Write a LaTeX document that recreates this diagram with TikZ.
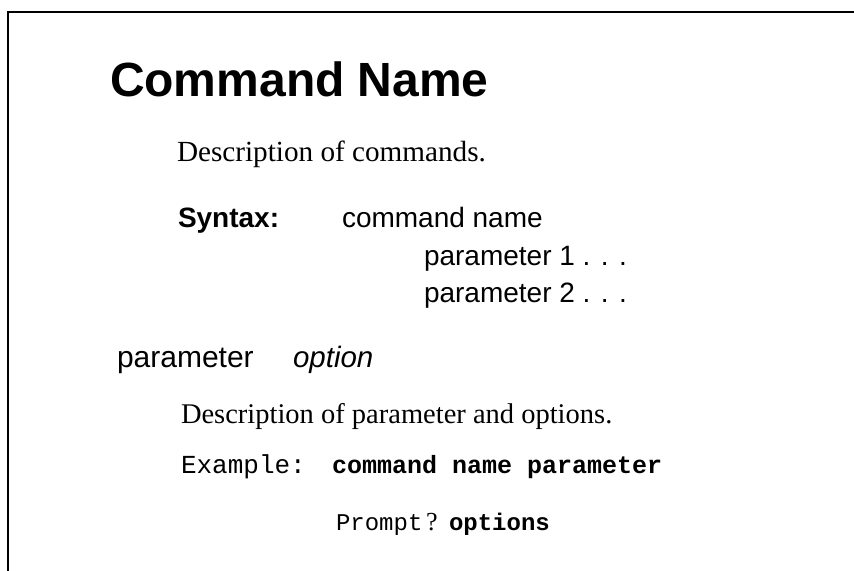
\documentclass[tikz,border=0pt]{standalone}
\usepackage{fontspec}
\setmainfont{Liberation Serif}
\setsansfont{Liberation Sans}
\setmonofont{Liberation Mono}
\begin{document}
\begin{tikzpicture}[x=1bp,y=-1bp,
  txt/.style={anchor=base west,inner sep=0pt,outer sep=0pt},
  titlefont/.style={font={\fontsize{48bp}{50bp}\sffamily\bfseries\selectfont}},
  serifbody/.style={font={\fontsize{29.2bp}{32bp}\rmfamily\selectfont}},
  sansbody/.style={font={\fontsize{28bp}{32bp}\sffamily\selectfont}},
  sansbold/.style={font={\fontsize{28bp}{32bp}\sffamily\bfseries\selectfont}},
  sansbig/.style={font={\fontsize{30bp}{32bp}\sffamily\selectfont}},
  sansital/.style={font={\fontsize{29.5bp}{32bp}\sffamily\itshape\selectfont}},
  monobody/.style={font={\fontsize{26bp}{28bp}\ttfamily\selectfont}},
  monobold/.style={font={\fontsize{25bp}{28bp}\ttfamily\bfseries\selectfont}},
  promptfont/.style={font={\fontsize{24bp}{28bp}\ttfamily\selectfont}},
  optsfont/.style={font={\fontsize{24bp}{28bp}\ttfamily\bfseries\selectfont}},
  qmfont/.style={font={\fontsize{26bp}{28bp}\rmfamily\selectfont}},
  frame/.style={line width=2bp}]
\useasboundingbox (0,0) rectangle (854,571);
\coordinate (ftr) at (854,12);
\coordinate (ftl) at (8,12);
\coordinate (fbl) at (8,571);
\draw[frame] (ftr) -- (ftl) -- (fbl);
\node[txt,titlefont] (title) at (110,97) {Command Name};
\node[txt,serifbody] (desc1) at (177,162) {Description of commands.};
\node[txt,sansbold] (syn) at (178,228) {Syntax:};
\node[txt,sansbody] (cmdname) at (342,228) {command name};
\node[txt,sansbody] (par1) at (424,265) {parameter 1 . . .};
\node[txt,sansbody] (par2) at (424,302) {parameter 2 . . .};
\node[txt,sansbig] (param) at (117,367) {parameter};
\node[txt,sansital] (opt) at (293,367) {option};
\node[txt,serifbody,font={\fontsize{28.5bp}{32bp}\rmfamily\selectfont}] (desc2) at (181,423) {Description of parameter and options.};
\node[txt,monobody] (ex) at (181,473) {Example:};
\node[txt,monobold] (excmd) at (332,473) {command name parameter};
\node[txt,promptfont] (prompt) at (336,530) {Prompt};
\node[txt,qmfont] (qm) at (426,530) {?};
\node[txt,optsfont] (opts) at (449,530) {options};
\end{tikzpicture}
\end{document}
